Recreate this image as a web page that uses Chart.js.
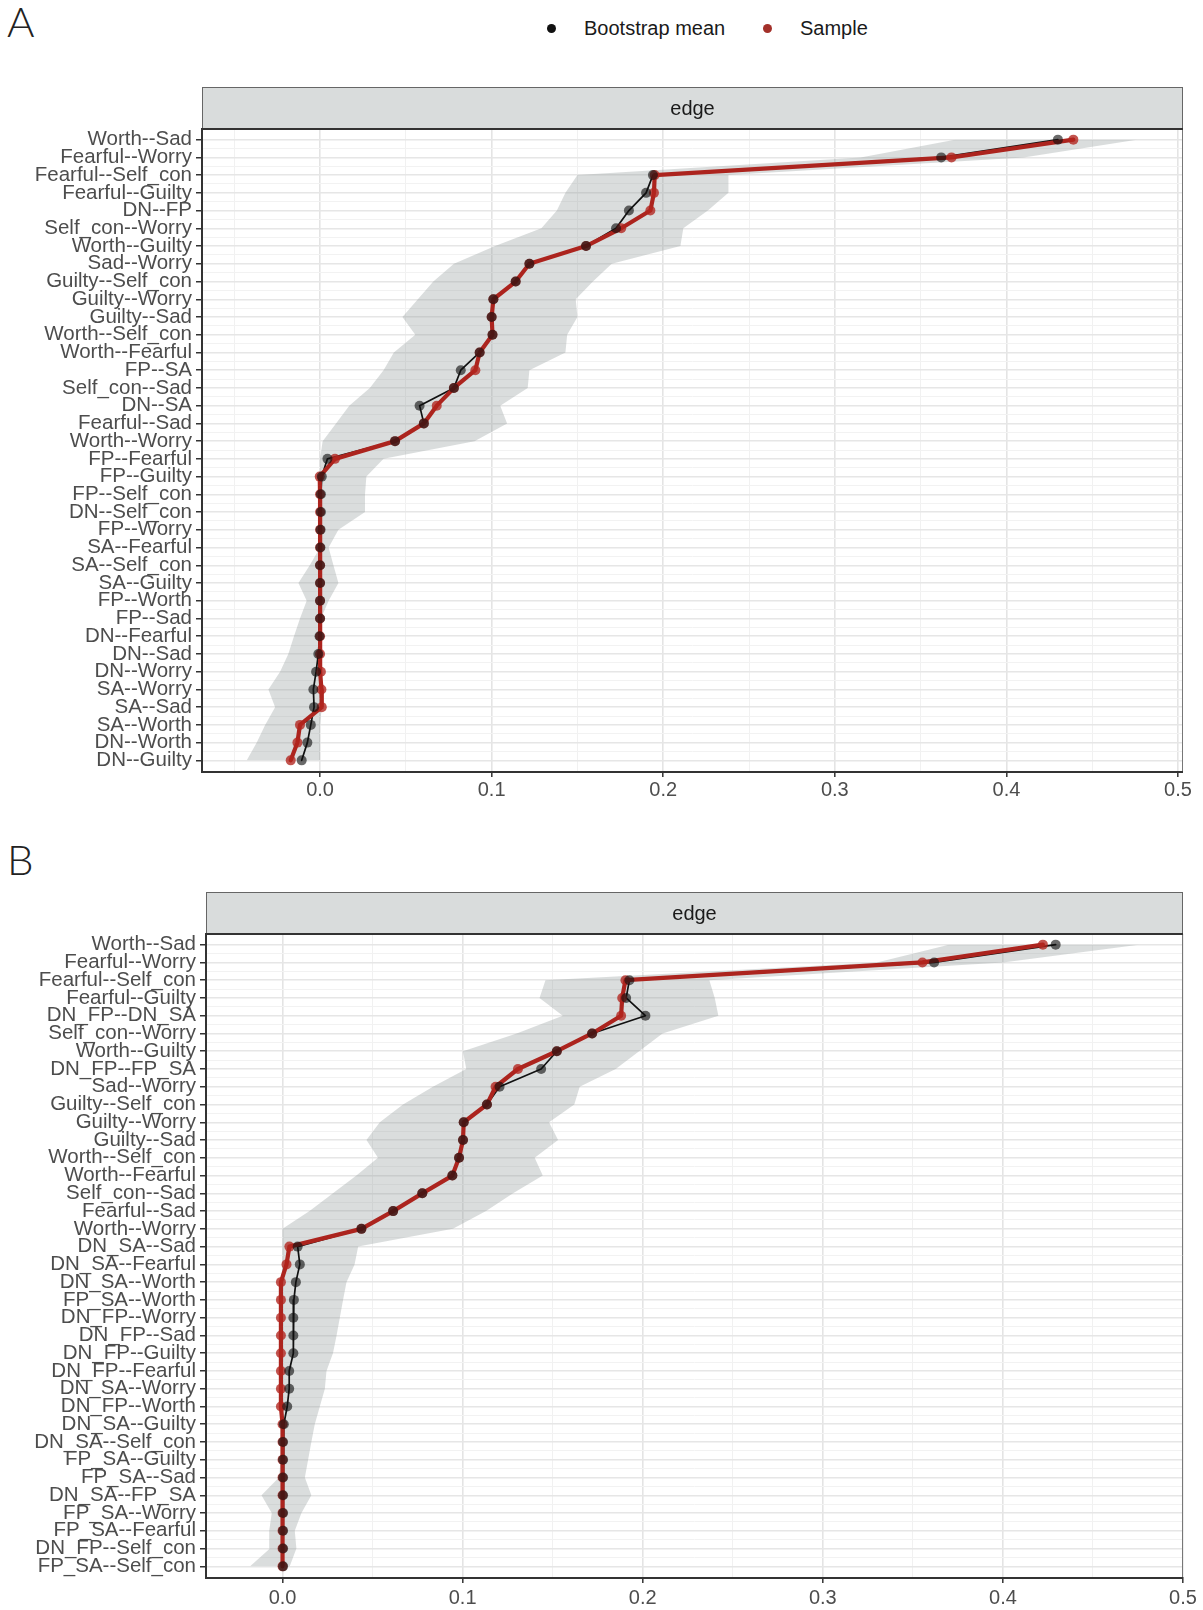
<!DOCTYPE html>
<html>
<head>
<meta charset="utf-8">
<script src="https://cdn.jsdelivr.net/npm/chart.js@4.4.1/dist/chart.umd.min.js"></script>
<style>
html,body{margin:0;padding:0;background:#fff;}
body{width:1203px;height:1610px;position:relative;overflow:hidden;font-family:"Liberation Sans",Arial,sans-serif;}
.letter{position:absolute;left:7px;font-family:Lato,"DejaVu Sans",sans-serif;font-weight:300;font-size:42px;line-height:42px;color:#222;}
.lg-dot{position:absolute;width:9px;height:9px;border-radius:50%;top:24px;}
.lg-txt{position:absolute;top:18px;font-size:20px;line-height:20px;color:#1a1a1a;white-space:nowrap;}
canvas{position:absolute;left:0;}
</style>
</head>
<body>
<div class="letter" style="top:0px">A</div>
<div class="letter" style="top:838px">B</div>
<div id="legend"></div>
<canvas id="cA" width="1203" height="724" style="top:87px"></canvas>
<canvas id="cB" width="1203" height="718" style="top:892px"></canvas>
<script>
// ---------------- DATA ----------------
const stripLabel = 'edge';
const legendLabels = ['Bootstrap mean', 'Sample'];

// Panel A
const catsA = ['Worth--Sad','Fearful--Worry','Fearful--Self_con','Fearful--Guilty','DN--FP','Self_con--Worry',
 'Worth--Guilty','Sad--Worry','Guilty--Self_con','Guilty--Worry','Guilty--Sad','Worth--Self_con','Worth--Fearful',
 'FP--SA','Self_con--Sad','DN--SA','Fearful--Sad','Worth--Worry','FP--Fearful','FP--Guilty','FP--Self_con',
 'DN--Self_con','FP--Worry','SA--Fearful','SA--Self_con','SA--Guilty','FP--Worth','FP--Sad','DN--Fearful',
 'DN--Sad','DN--Worry','SA--Worry','SA--Sad','SA--Worth','DN--Worth','DN--Guilty'];
const meanA = [0.430,0.362,0.194,0.190,0.180,0.1725,0.155,0.122,0.114,0.101,0.100,0.1005,0.093,
 0.082,0.078,0.058,0.0605,0.0437,0.0043,0.001,0.0005,0.0005,0.0003,0.0002,0,0,0,0,-0.0003,
 -0.001,-0.0023,-0.0039,-0.0035,-0.0054,-0.0074,-0.0107];
const sampleA = [0.439,0.368,0.195,0.1946,0.1925,0.1755,0.155,0.122,0.114,0.101,0.100,0.1005,0.093,
 0.0905,0.078,0.068,0.0605,0.0437,0.0087,-0.0002,0,0,0,0,0,0,0,0,0,
 0,0.0005,0.0008,0.001,-0.0117,-0.0132,-0.0171];
const lowerA = [0.37,0.315,0.150,0.143,0.138,0.129,0.102,0.078,0.066,0.057,0.048,0.0555,0.043,
 0.037,0.029,0.017,0.0093,0.0015,0,0,0,0,0,0,-0.006,-0.0126,-0.0078,-0.0117,-0.0152,
 -0.0185,-0.0233,-0.0301,-0.0262,-0.032,-0.0369,-0.0427];
const upperA = [0.476,0.41,0.238,0.238,0.226,0.2117,0.2100,0.170,0.159,0.149,0.150,0.144,0.143,
 0.122,0.121,0.105,0.109,0.090,0.037,0.027,0.0262,0.0262,0.0107,0.005,0.0078,0.0107,0.005,0.0005,0.0005,
 0.0005,0.0005,0.0008,0.001,0,0,0];
const xTicksA = [-0.05,0,0.05,0.1,0.15,0.2,0.25,0.3,0.35,0.4,0.45,0.5];

// Panel B
const catsB = ['Worth--Sad','Fearful--Worry','Fearful--Self_con','Fearful--Guilty','DN_FP--DN_SA','Self_con--Worry',
 'Worth--Guilty','DN_FP--FP_SA','Sad--Worry','Guilty--Self_con','Guilty--Worry','Guilty--Sad','Worth--Self_con',
 'Worth--Fearful','Self_con--Sad','Fearful--Sad','Worth--Worry','DN_SA--Sad','DN_SA--Fearful','DN_SA--Worth',
 'FP_SA--Worth','DN_FP--Worry','DN_FP--Sad','DN_FP--Guilty','DN_FP--Fearful','DN_SA--Worry','DN_FP--Worth',
 'DN_SA--Guilty','DN_SA--Self_con','FP_SA--Guilty','FP_SA--Sad','DN_SA--FP_SA','FP_SA--Worry','FP_SA--Fearful',
 'DN_FP--Self_con','FP_SA--Self_con'];
const meanB = [0.4293,0.3618,0.1926,0.1908,0.2015,0.1719,0.1523,0.1436,0.1205,0.1135,0.1006,0.1002,0.098,
 0.0943,0.0776,0.0614,0.0438,0.0084,0.0096,0.0074,0.0063,0.006,0.006,0.006,0.0037,0.0037,0.0026,
 0.0007,0.0003,0.0003,0.0003,0.0003,0.0003,0.0003,0.0003,0.0003];
const sampleB = [0.4222,0.3553,0.1904,0.1886,0.188,0.1719,0.1523,0.1307,0.1183,0.1135,0.1006,0.1002,0.098,
 0.0943,0.0776,0.0614,0.0438,0.0038,0.0022,-0.0009,-0.0009,-0.0009,-0.0009,-0.0009,-0.0009,-0.0009,-0.0009,
 0,0,0,0,0,0,0,0,0];
const lowerB = [0.37,0.33,0.146,0.1427,0.1556,0.13,0.1002,0.102,0.0835,0.0669,0.054,0.0466,0.053,
 0.041,0.028,0.015,0.0,0.0,0,-0.001,-0.001,-0.001,-0.001,-0.001,-0.001,-0.001,-0.001,
 -0.001,-0.001,-0.001,-0.002,-0.0117,-0.006,-0.0074,-0.007,-0.018];
const upperB = [0.4755,0.40,0.237,0.24,0.242,0.211,0.198,0.185,0.165,0.162,0.148,0.153,0.14,
 0.1445,0.128,0.113,0.0946,0.042,0.040,0.0355,0.0336,0.0318,0.030,0.028,0.0244,0.0235,0.0207,
 0.0179,0.016,0.0142,0.0124,0.016,0.0105,0.0068,0.0077,0.004];
const xTicksB = [0,0.05,0.1,0.15,0.2,0.25,0.3,0.35,0.4,0.45,0.5];

// ---------------- STYLE ----------------
const RED_LINE = 'rgb(172,36,30)';
const RED_PT = 'rgba(178,36,30,0.78)';
const BLK_LINE = '#111';
const BLK_PT = 'rgba(15,15,15,0.62)';
const BAND = 'rgba(140,150,150,0.32)';
const TXT = '#4d4d4d';
const FONT = '"Liberation Sans", Arial, sans-serif';

// legend
(function(){
  const lg = document.getElementById('legend');
  const dots = [551, 767], txts = [584, 800], cols = ['#111', '#a3302a'];
  legendLabels.forEach((t,i)=>{
    const d = document.createElement('div'); d.className='lg-dot';
    d.style.left=(dots[i]-4.5)+'px'; d.style.background=cols[i]; lg.appendChild(d);
    const s = document.createElement('div'); s.className='lg-txt';
    s.style.left=txts[i]+'px'; s.textContent=t; lg.appendChild(s);
  });
})();

const isMajor = v => Math.abs(Math.round(v*100)) % 10 === 0;
const transparent = 'rgba(0,0,0,0)';

const panelPlugin = {
  id: 'panelDeco',
  beforeDraw(chart) {
    const {ctx, chartArea: a} = chart;
    const sh = chart.options.plugins.panelDeco.stripH;
    ctx.save();
    ctx.fillStyle = '#d9dcdc';
    ctx.fillRect(a.left, a.top - sh, a.right - a.left, sh);
    ctx.strokeStyle = '#666'; ctx.lineWidth = 1;
    ctx.strokeRect(a.left + 0.5, a.top - sh + 0.5, a.right - a.left - 1, sh);
    ctx.fillStyle = '#1a1a1a';
    ctx.font = '20px ' + FONT;
    ctx.textAlign = 'center'; ctx.textBaseline = 'middle';
    ctx.fillText(stripLabel, (a.left + a.right) / 2, a.top - sh / 2 + 1);
    ctx.restore();
  },
  afterDatasetsDraw(chart) {
    const {ctx, chartArea: a} = chart;
    ctx.save();
    ctx.strokeStyle = '#777'; ctx.lineWidth = 1;
    ctx.beginPath(); ctx.moveTo(a.right - 0.5, a.top); ctx.lineTo(a.right - 0.5, a.bottom); ctx.stroke();
    ctx.strokeStyle = '#333'; ctx.lineWidth = 2;
    ctx.beginPath();
    ctx.moveTo(a.left, a.top); ctx.lineTo(a.right, a.top);
    ctx.moveTo(a.left, a.top - 1); ctx.lineTo(a.left, a.bottom + 1);
    ctx.lineTo(a.right, a.bottom + 1);
    ctx.stroke();
    ctx.restore();
  }
};

function pts(arr) { return arr.map((v, i) => ({x: v, y: i})); }

function makeChart(id, cats, mean, sample, lower, upper, xTicks, xmin, xmax, xAxisH, labelPad) {
  const n = cats.length;
  const yTicks = [];
  for (let i = 0; i < n; i++) { yTicks.push(i); if (i < n - 1) yTicks.push(i + 0.5); }
  new Chart(document.getElementById(id), {
    type: 'line',
    data: {
      datasets: [
        {data: pts(lower), borderWidth: 0, pointRadius: 0, fill: false, order: 6, borderColor: transparent},
        {data: pts(upper), borderWidth: 0, pointRadius: 0, fill: '-1', backgroundColor: BAND, borderColor: transparent, order: 5},
        {data: pts(mean), borderColor: BLK_LINE, borderWidth: 1.7, pointRadius: 0, fill: false, order: 4},
        {data: pts(sample), borderColor: RED_LINE, borderWidth: 4.2, pointRadius: 0, fill: false, order: 3},
        {data: pts(sample), showLine: false, pointRadius: 5, pointBorderWidth: 0, pointBackgroundColor: RED_PT, order: 2},
        {data: pts(mean), showLine: false, pointRadius: 5, pointBorderWidth: 0, pointBackgroundColor: BLK_PT, order: 1}
      ]
    },
    options: {
      indexAxis: 'y',
      responsive: false,
      animation: false,
      events: [],
      layout: {padding: {top: 42, right: 20, left: 0, bottom: 0}},
      elements: {line: {tension: 0, borderJoinStyle: 'round', borderCapStyle: 'round'}},
      plugins: {legend: {display: false}, tooltip: {enabled: false}, panelDeco: {stripH: 42}},
      scales: {
        x: {
          type: 'linear', position: 'bottom', min: xmin, max: xmax,
          afterBuildTicks: s => { s.ticks = xTicks.map(v => ({value: v})); },
          afterFit: s => { s.height = xAxisH; },
          border: {display: false},
          grid: {
            color: c => (c.tick && isMajor(c.tick.value)) ? '#e4e4e4' : '#f1f1f1',
            lineWidth: c => (c.tick && isMajor(c.tick.value)) ? 1.6 : 1,
            tickColor: c => (c.tick && isMajor(c.tick.value)) ? '#333' : transparent,
            tickLength: 6, tickWidth: 1.5
          },
          ticks: {
            autoSkip: false, maxRotation: 0, padding: labelPad, color: TXT,
            font: {family: FONT, size: 20, lineHeight: 1},
            callback: v => isMajor(v) ? Number(v).toFixed(1) : ''
          }
        },
        y: {
          type: 'linear', reverse: true, min: -0.6, max: n - 1 + 0.6,
          afterBuildTicks: s => { s.ticks = yTicks.map(v => ({value: v})); },
          afterFit: s => { s.width = (id === 'cA') ? 202 : 206; },
          border: {display: false},
          grid: {
            color: c => (c.tick && Number.isInteger(c.tick.value)) ? '#e6e6e6' : '#f2f2f2',
            lineWidth: c => (c.tick && Number.isInteger(c.tick.value)) ? 1.5 : 1,
            tickColor: c => (c.tick && Number.isInteger(c.tick.value)) ? '#333' : transparent,
            tickLength: 6, tickWidth: 1.5
          },
          ticks: {
            autoSkip: false, padding: 4, color: TXT,
            font: {family: FONT, size: 20.5, lineHeight: 1},
            callback: v => Number.isInteger(v) ? cats[v] : ''
          }
        }
      }
    },
    plugins: [panelPlugin]
  });
}

makeChart('cA', catsA, meanA, sampleA, lowerA, upperA, xTicksA, -0.0688, 0.5029, 40, 3);
makeChart('cB', catsB, meanB, sampleB, lowerB, upperB, xTicksB, -0.0425, 0.5, 33, 5);
</script>
</body>
</html>
